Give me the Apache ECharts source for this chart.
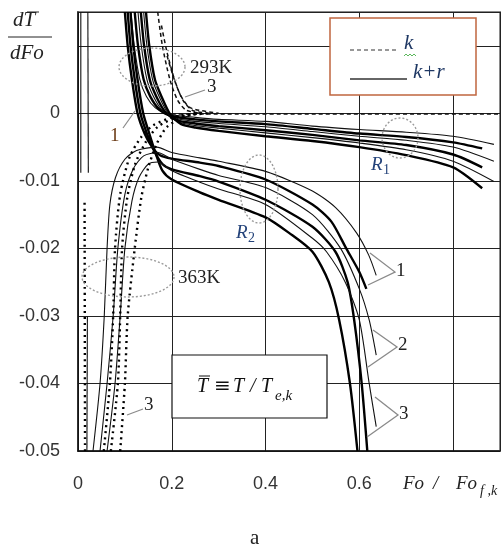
<!DOCTYPE html>
<html>
<head>
<meta charset="utf-8">
<script src="https://cdn.jsdelivr.net/npm/echarts@6/dist/echarts.min.js"></script>
<style>html,body{margin:0;padding:0;background:#fff;}#c{width:504px;height:547px;}</style>
</head>
<body>
<div id="c"></div>
<script>
// ---- tick labels ----
const xTickLabels = ['0', '0.2', '0.4', '0.6'];
const yTickLabels = ['0', '-0.01', '-0.02', '-0.03', '-0.04', '-0.05'];

// ---- 293K family, k+r (solid) : region R1 ----
const r1Thin1  = [[0.113,0.015],[0.12,0.01],[0.132,0.005],[0.146,0.0025],[0.165,0.0008],[0.19,-0.0001],[0.25,-0.0006],[0.3,-0.0009],[0.4,-0.0012],[0.5,-0.0019],[0.6,-0.0024],[0.7,-0.0028],[0.8,-0.0034],[0.887,-0.0046]];
const r1Thick1 = [[0.121,0.015],[0.128,0.01],[0.14,0.005],[0.154,0.0025],[0.173,0.0006],[0.2,-0.0004],[0.25,-0.0009],[0.3,-0.0012],[0.4,-0.0016],[0.5,-0.0023],[0.6,-0.003],[0.7,-0.0035],[0.8,-0.0043],[0.862,-0.0052]];
const r1Thin2  = [[0.128,0.015],[0.135,0.01],[0.147,0.005],[0.161,0.0025],[0.18,0.0004],[0.205,-0.0007],[0.25,-0.0012],[0.3,-0.0015],[0.4,-0.002],[0.5,-0.0027],[0.6,-0.0034],[0.7,-0.004],[0.8,-0.005],[0.887,-0.0071]];
const r1Thick2 = [[0.134,0.015],[0.141,0.01],[0.153,0.005],[0.167,0.0025],[0.186,0.0002],[0.21,-0.001],[0.25,-0.0015],[0.3,-0.0019],[0.4,-0.0025],[0.5,-0.0032],[0.6,-0.004],[0.7,-0.0047],[0.8,-0.0061],[0.862,-0.008]];
const r1Thin3  = [[0.14,0.015],[0.147,0.01],[0.159,0.005],[0.173,0.0025],[0.192,0],[0.215,-0.0013],[0.25,-0.0018],[0.3,-0.0022],[0.4,-0.0029],[0.5,-0.0036],[0.6,-0.0044],[0.7,-0.0054],[0.8,-0.0071],[0.887,-0.0101]];
const r1Thick3 = [[0.145,0.015],[0.152,0.01],[0.164,0.005],[0.178,0.0025],[0.197,-0.0002],[0.22,-0.0016],[0.25,-0.0021],[0.3,-0.0026],[0.4,-0.0034],[0.5,-0.0041],[0.6,-0.005],[0.7,-0.0062],[0.8,-0.008],[0.862,-0.0111]];

// ---- 293K family, k (dashed) ----
const k293a = [[0.17,0.015],[0.18,0.01],[0.196,0.005],[0.212,0.002],[0.23,0.0005],[0.26,0]];
const k293b = [[0.178,0.013],[0.19,0.009],[0.208,0.0045],[0.225,0.0018],[0.245,0.0004],[0.28,0]];
const k293c = [[0.19,0.0085],[0.203,0.0055],[0.22,0.0025],[0.24,0.0008],[0.3,0]];
const kZero = [[0.2,-0.0001],[0.9,-0.0001]];

// ---- R2 region, k+r (thick, from top) ----
const r2Thick1 = [[0.1,0.015],[0.106,0.01],[0.115,0.005],[0.127,0],[0.142,-0.003],[0.158,-0.005],[0.175,-0.0062],[0.2,-0.0067],[0.26,-0.0073],[0.3,-0.0078],[0.4,-0.0098],[0.5,-0.0135],[0.54,-0.016],[0.572,-0.02],[0.6,-0.0235],[0.615,-0.026]];
const r2Thick2 = [[0.106,0.015],[0.112,0.01],[0.121,0.005],[0.133,0],[0.147,-0.003],[0.162,-0.0055],[0.18,-0.0075],[0.2,-0.0083],[0.26,-0.0093],[0.3,-0.0101],[0.4,-0.0128],[0.5,-0.0168],[0.549,-0.0205],[0.575,-0.025],[0.589,-0.0306],[0.605,-0.04],[0.617,-0.05]];
const r2Thick3 = [[0.112,0.015],[0.118,0.01],[0.127,0.005],[0.139,0],[0.152,-0.003],[0.165,-0.0058],[0.18,-0.0085],[0.2,-0.0098],[0.26,-0.0117],[0.3,-0.0128],[0.4,-0.0154],[0.45,-0.0177],[0.5,-0.0205],[0.535,-0.025],[0.557,-0.0306],[0.58,-0.04],[0.596,-0.05]];

// ---- 363K family (thin, from bottom) joining R2 ----
const r2Thin1 = [[0.032,-0.05],[0.047,-0.04],[0.056,-0.03],[0.062,-0.02],[0.068,-0.0135],[0.08,-0.0095],[0.1,-0.0068],[0.125,-0.0055],[0.168,-0.005],[0.2,-0.0058],[0.26,-0.0066],[0.3,-0.0071],[0.4,-0.0086],[0.5,-0.0115],[0.55,-0.014],[0.594,-0.0177],[0.62,-0.021],[0.636,-0.024]];
const r2Thin2 = [[0.047,-0.05],[0.062,-0.04],[0.075,-0.03],[0.085,-0.02],[0.1,-0.012],[0.118,-0.0082],[0.14,-0.0063],[0.17,-0.0058],[0.2,-0.0068],[0.26,-0.0083],[0.3,-0.0092],[0.4,-0.011],[0.5,-0.015],[0.56,-0.02],[0.6,-0.026],[0.621,-0.0306],[0.636,-0.0358]];
const r2Thin3 = [[0.062,-0.05],[0.079,-0.04],[0.09,-0.03],[0.1,-0.02],[0.115,-0.013],[0.13,-0.0095],[0.15,-0.0075],[0.17,-0.0072],[0.2,-0.0085],[0.26,-0.0102],[0.3,-0.0112],[0.4,-0.0135],[0.5,-0.0185],[0.53,-0.0205],[0.57,-0.025],[0.6,-0.0306],[0.621,-0.04],[0.636,-0.0464]];

// ---- 363K family, k (dotted) ----
const k363a = [[0.055,-0.05],[0.068,-0.04],[0.075,-0.03],[0.079,-0.02],[0.09,-0.012],[0.11,-0.0065],[0.135,-0.0035],[0.16,-0.0018],[0.2,-0.0006],[0.25,0]];
const k363b = [[0.07,-0.05],[0.085,-0.04],[0.09,-0.03],[0.094,-0.02],[0.105,-0.0125],[0.122,-0.0075],[0.145,-0.0042],[0.17,-0.002],[0.21,-0.0006],[0.26,0]];
const k363c = [[0.09,-0.05],[0.1,-0.04],[0.106,-0.03],[0.121,-0.02],[0.135,-0.0125],[0.15,-0.008],[0.168,-0.0045],[0.19,-0.002],[0.23,-0.0004],[0.28,0]];

// ---- near-vertical curves at the left edge ----
const edgeTop1 = [[0.006,0.015],[0.006,-0.0088]];
const edgeTop2 = [[0.021,0.015],[0.022,-0.0088]];
const edgeDot  = [[0.015,-0.05],[0.014,-0.013]];
const edgeLow  = [[0.019,-0.05],[0.02,-0.03]];

const styles = {
  thick: {color:'#000', width:2.4, type:'solid'},
  thin:  {color:'#111', width:1.1, type:'solid'},
  dash:  {color:'#111', width:1.5, type:[4,3]},
  dot:   {color:'#000', width:2.4, type:[2,4]}
};
const curves = [
  [r1Thin1,'thin'],[r1Thick1,'thick'],[r1Thin2,'thin'],[r1Thick2,'thick'],[r1Thin3,'thin'],[r1Thick3,'thick'],
  [k293a,'dash'],[k293b,'dash'],[k293c,'dash'],[kZero,'dash'],
  [r2Thick1,'thick'],[r2Thick2,'thick'],[r2Thick3,'thick'],
  [r2Thin1,'thin'],[r2Thin2,'thin'],[r2Thin3,'thin'],
  [k363a,'dot'],[k363b,'dot'],[k363c,'dot'],
  [edgeTop1,'thin'],[edgeTop2,'thin'],[edgeDot,'dot'],[edgeLow,'thin']
];

const chart = echarts.init(document.getElementById('c'), null, {renderer:'canvas'});

function fmt(list){
  return function(v){
    const s = String(+(+v).toFixed(3));
    return list.indexOf(s) >= 0 ? s : '';
  };
}

function ellipsePts(cx, cy, rx, ry){
  const p = [];
  for (let i = 0; i < 72; i++){
    const a = i / 72 * Math.PI * 2;
    p.push([cx + rx * Math.cos(a), cy + ry * Math.sin(a)]);
  }
  return p;
}
const grayDot = {stroke:'#9a9a9a', lineWidth:1.4, lineDash:[2,2], fill:null};
const grayLine = {stroke:'#8a8a8a', lineWidth:1.2};
const serifI = 'italic 19px "Liberation Serif"';
const serif = '19px "Liberation Serif"';
const txtColor = '#222';
const blue = '#24437a';

const graphics = [
  // y-axis title  dT̄ / dFo
  {type:'text', left:13, top:10, style:{text:'dT', font:'italic 21px "Liberation Serif"', fill:'#222'}},
  {type:'line', shape:{x1:27, y1:12, x2:39, y2:12}, style:{stroke:'#222', lineWidth:1}},
  {type:'line', shape:{x1:8, y1:37, x2:52, y2:37}, style:{stroke:'#222', lineWidth:1}},
  {type:'text', left:10, top:43, style:{text:'dFo', font:'italic 21px "Liberation Serif"', fill:'#222'}},
  // x-axis title  Fo / Fo f,k
  {type:'text', left:403, top:474, style:{text:'Fo', font:serifI, fill:'#222'}},
  {type:'text', left:433, top:474, style:{text:'/', font:serifI, fill:'#222'}},
  {type:'text', left:456, top:474, style:{text:'Fo', font:serifI, fill:'#222'}},
  {type:'text', left:480, top:484, style:{text:'f ,k', font:'italic 14px "Liberation Serif"', fill:'#222'}},
  // caption
  {type:'text', left:250, top:528, style:{text:'a', font:'21px "Liberation Serif"', fill:'#222'}},
  // legend box
  {type:'rect', shape:{x:330, y:18, width:146, height:77}, style:{fill:'#fff', stroke:'#c0663f', lineWidth:1.5}, z:100},
  {type:'line', shape:{x1:350, y1:50, x2:396, y2:50}, style:{stroke:'#777', lineWidth:1.3, lineDash:[4,3]}, z:101},
  {type:'text', left:404, top:33, style:{text:'k', font:'italic 21px "Liberation Serif"', fill:'#1f3864'}, z:101},
  {type:'polyline', shape:{points:[[404,56],[406,54],[408,56],[410,54],[412,56],[414,54],[416,56]]}, style:{stroke:'#5cb85c', lineWidth:1, fill:null}, z:101},
  {type:'line', shape:{x1:350, y1:79, x2:407, y2:79}, style:{stroke:'#333', lineWidth:1.5}, z:101},
  {type:'text', left:413, top:62, style:{text:'k+r', font:'italic 21px "Liberation Serif"', fill:'#1f3864'}, z:101},
  // formula box
  {type:'rect', shape:{x:172, y:355, width:155, height:63}, style:{fill:'#fff', stroke:'#111', lineWidth:1.2}, z:100},
  {type:'text', left:197, top:377, style:{text:'T', font:'italic 20px "Liberation Serif"', fill:'#111'}, z:101},
  {type:'line', shape:{x1:199, y1:376, x2:210, y2:376}, style:{stroke:'#111', lineWidth:1}, z:101},
  {type:'text', left:214, top:377, style:{text:'\u2261', font:'20px "DejaVu Serif"', fill:'#111'}, z:101},
  {type:'text', left:233, top:377, style:{text:'T', font:'italic 20px "Liberation Serif"', fill:'#111'}, z:101},
  {type:'text', left:250, top:377, style:{text:'/', font:'italic 20px "Liberation Serif"', fill:'#111'}, z:101},
  {type:'text', left:261, top:377, style:{text:'T', font:'italic 20px "Liberation Serif"', fill:'#111'}, z:101},
  {type:'text', left:275, top:389, style:{text:'e,k', font:'italic 15px "Liberation Serif"', fill:'#111'}, z:101},
  // ellipses
  {type:'polygon', shape:{points:ellipsePts(152,67,33,19)}, style:grayDot, z:90},
  {type:'polygon', shape:{points:ellipsePts(400,138,18,20)}, style:grayDot, z:90},
  {type:'polygon', shape:{points:ellipsePts(259,189,19,34)}, style:grayDot, z:90},
  {type:'polygon', shape:{points:ellipsePts(128,277,46,20)}, style:grayDot, z:90},
  // region labels
  {type:'text', left:190, top:59, style:{text:'293K', font:serif, fill:txtColor}, z:101},
  {type:'text', left:178, top:269, style:{text:'363K', font:serif, fill:txtColor}, z:101},
  {type:'text', left:371, top:155, style:{text:'R', font:'italic 19px "Liberation Serif"', fill:blue}, z:101},
  {type:'text', left:383, top:163, style:{text:'1', font:'14px "Liberation Serif"', fill:blue}, z:101},
  {type:'text', left:236, top:223, style:{text:'R', font:'italic 19px "Liberation Serif"', fill:blue}, z:101},
  {type:'text', left:248, top:231, style:{text:'2', font:'14px "Liberation Serif"', fill:blue}, z:101},
  // leaders
  {type:'line', shape:{x1:185, y1:97, x2:205, y2:90}, style:grayLine, z:101},
  {type:'text', left:207, top:78, style:{text:'3', font:serif, fill:txtColor}, z:101},
  {type:'line', shape:{x1:123, y1:128, x2:135, y2:111}, style:grayLine, z:101},
  {type:'text', left:110, top:127, style:{text:'1', font:serif, fill:'#6b3b16'}, z:101},
  {type:'line', shape:{x1:127, y1:415, x2:143, y2:409}, style:grayLine, z:101},
  {type:'text', left:144, top:396, style:{text:'3', font:serif, fill:txtColor}, z:101},
  // triangles
  {type:'polyline', shape:{points:[[370,253],[395,272],[368,285]]}, style:{stroke:'#8a8a8a', lineWidth:1.3, fill:null}, z:101},
  {type:'text', left:396, top:262, style:{text:'1', font:serif, fill:txtColor}, z:101},
  {type:'polyline', shape:{points:[[373,330],[397,347],[368,367]]}, style:{stroke:'#8a8a8a', lineWidth:1.3, fill:null}, z:101},
  {type:'text', left:398, top:336, style:{text:'2', font:serif, fill:txtColor}, z:101},
  {type:'polyline', shape:{points:[[375,397],[398,415],[367,437]]}, style:{stroke:'#8a8a8a', lineWidth:1.3, fill:null}, z:101},
  {type:'text', left:399, top:405, style:{text:'3', font:serif, fill:txtColor}, z:101}
];

const option = {
  animation:false,
  backgroundColor:'#fff',
  grid:{left:78, right:4, top:12, bottom:96, show:true, borderColor:'#8a8a8a', borderWidth:2, backgroundColor:'#fff'},
  xAxis:{type:'value', min:0, max:0.9, interval:0.2,
    axisLine:{show:true, onZero:false, lineStyle:{color:'#111', width:1.5}},
    axisTick:{show:false},
    splitLine:{show:true, lineStyle:{color:'#222', width:1}},
    axisLabel:{formatter:fmt(xTickLabels), margin:24, color:'#333', fontSize:18, fontFamily:'Liberation Sans'}},
  yAxis:{type:'value', min:-0.05, max:0.015, interval:0.01,
    axisLine:{show:true, onZero:false, lineStyle:{color:'#111', width:1.5}},
    axisTick:{show:false},
    splitLine:{show:true, lineStyle:{color:'#222', width:1}},
    axisLabel:{formatter:fmt(yTickLabels), margin:18, color:'#333', fontSize:18, fontFamily:'Liberation Sans'}},
  series: curves.map(function(c){
    return {type:'line', data:c[0], showSymbol:false, smooth:0.25, silent:true,
      lineStyle:Object.assign({}, styles[c[1]]), z:5};
  }),
  graphic: graphics
};
chart.setOption(option);
</script>
</body>
</html>
